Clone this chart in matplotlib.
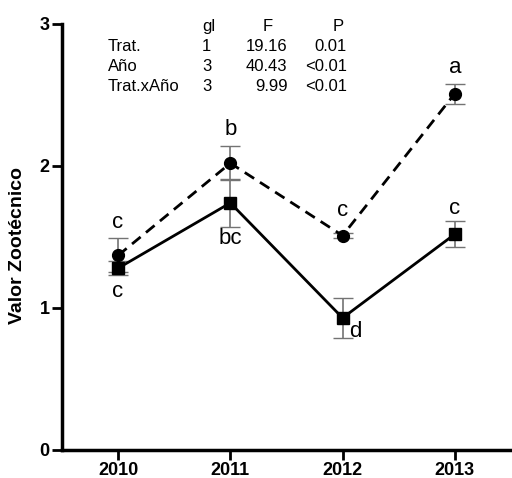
import matplotlib
matplotlib.use("Agg")
import matplotlib.pyplot as plt

plt.rcParams["font.family"] = ["Liberation Sans", "DejaVu Sans"]

years = ["2010", "2011", "2012", "2013"]
trat_a = [1.37, 2.02, 1.51, 2.51]      # dashed, circles
trat_a_err = [0.12, 0.12, 0.02, 0.07]
trat_b = [1.28, 1.74, 0.93, 1.52]      # solid, squares
trat_b_err = [0.05, 0.17, 0.14, 0.09]
letters_a = ["c", "b", "c", "a"]
letters_b = ["c", "bc", "d", "c"]

anova_rows = ["Trat.", "Año", "Trat.xAño"]
anova_gl = ["1", "3", "3"]
anova_f = ["19.16", "40.43", "9.99"]
anova_p = ["0.01", "<0.01", "<0.01"]

fig = plt.figure(figsize=(5.12, 4.78), dpi=100)
ax = fig.add_axes([0.121, 0.0586, 0.877, 0.8912])
x = list(range(len(years)))

ax.errorbar(x, trat_a, yerr=trat_a_err, fmt="none", ecolor="0.45", elinewidth=1.2,
            capsize=7, capthick=1.0, zorder=2)
ax.errorbar(x, trat_b, yerr=trat_b_err, fmt="none", ecolor="0.45", elinewidth=1.2,
            capsize=7, capthick=1.0, zorder=2)
ax.plot(x, trat_a, ls=(0, (4, 2.5)), color="black", lw=2, marker="o", ms=8.5, zorder=3)
ax.plot(x, trat_b, ls="-", color="black", lw=2, marker="s", ms=9, zorder=3)

# significance letters
fs = 16
ax.text(0, trat_a[0] + trat_a_err[0] + 0.04, letters_a[0], ha="center", va="bottom", fontsize=fs)
ax.text(0, trat_b[0] - trat_b_err[0] - 0.04, letters_b[0], ha="center", va="top", fontsize=fs)
ax.text(1, trat_a[1] + trat_a_err[1] + 0.04, letters_a[1], ha="center", va="bottom", fontsize=fs)
ax.text(1, trat_b[1] - trat_b_err[1] - 0.01, letters_b[1], ha="center", va="top", fontsize=fs)
ax.text(2, trat_a[2] + 0.1, letters_a[2], ha="center", va="bottom", fontsize=fs)
ax.text(2.06, trat_b[2] - 0.02, letters_b[2], ha="left", va="top", fontsize=fs)
ax.text(3, trat_a[3] + trat_a_err[3] + 0.04, letters_a[3], ha="center", va="bottom", fontsize=fs)
ax.text(3, trat_b[3] + trat_b_err[3] + 0.02, letters_b[3], ha="center", va="bottom", fontsize=fs)

# ANOVA table
ts = 12
ax.text(0.81, 2.98, "gl", ha="center", va="center", fontsize=ts)
ax.text(1.33, 2.98, "F", ha="center", va="center", fontsize=ts)
ax.text(1.96, 2.98, "P", ha="center", va="center", fontsize=ts)
for i, name in enumerate(anova_rows):
    yy = 2.845 - i * 0.142
    ax.text(-0.09, yy, name, ha="left", va="center", fontsize=ts)
    ax.text(0.79, yy, anova_gl[i], ha="center", va="center", fontsize=ts)
    ax.text(1.51, yy, anova_f[i], ha="right", va="center", fontsize=ts)
    ax.text(2.04, yy, anova_p[i], ha="right", va="center", fontsize=ts)

ax.set_xlim(-0.5, 3.5)
ax.set_ylim(0, 3)
ax.set_xticks(x)
ax.set_xticklabels(years)
ax.set_yticks([0, 1, 2, 3])
for lab in ax.get_xticklabels() + ax.get_yticklabels():
    lab.set_fontweight("bold")
    lab.set_fontsize(13)
ax.tick_params(axis="both", direction="out", length=7, width=2, pad=2)
ax.spines["top"].set_visible(False)
ax.spines["right"].set_visible(False)
ax.spines["left"].set_linewidth(2.5)
ax.spines["bottom"].set_linewidth(2.5)
ax.set_ylabel("Valor Zootécnico", fontsize=14, fontweight="bold")
ax.yaxis.set_label_coords(-0.08, 0.48)

fig.savefig("out.png", dpi=100)
